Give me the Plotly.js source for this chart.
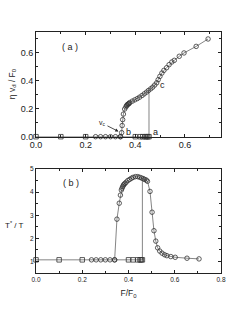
<!DOCTYPE html>
<html><head><meta charset="utf-8">
<script src="https://cdn.plot.ly/plotly-3.0.1.min.js"></script>
<style>html,body{margin:0;padding:0;background:#fff}#chart{width:245px;height:321px}</style>
</head><body><div id="chart"></div>
<script>
// Panel (a): eta*v_d/F0 vs F/F0
const topBaseX = [0, 0.1, 0.2, 0.24, 0.26, 0.28, 0.30, 0.32, 0.34, 0.40, 0.42, 0.43, 0.44, 0.445, 0.45, 0.455];
const topBaseY = [0, 0, 0, 0, 0, 0, 0, 0, 0, 0, 0, 0, 0, 0, 0, 0];
const topBaseSym = ['square-open','square-open','square-open','circle-open','circle-open','circle-open','circle-open','circle-open','circle-open','square-open','square-open','square-open','square-open','square-open','square-open','square-open'];
const topUpX = [0.34, 0.345, 0.347, 0.349, 0.352, 0.357, 0.362, 0.365, 0.367, 0.37, 0.372, 0.375, 0.378, 0.388, 0.398, 0.408, 0.417, 0.427, 0.436, 0.445, 0.453, 0.462, 0.470, 0.478, 0.486, 0.492, 0.499, 0.507, 0.515, 0.526, 0.536, 0.547, 0.557, 0.577, 0.596, 0.645, 0.693];
const topUpY = [0, 0.029, 0.08, 0.122, 0.162, 0.198, 0.213, 0.222, 0.228, 0.232, 0.235, 0.238, 0.245, 0.255, 0.264, 0.273, 0.283, 0.295, 0.307, 0.319, 0.331, 0.343, 0.355, 0.37, 0.386, 0.408, 0.432, 0.456, 0.475, 0.494, 0.516, 0.535, 0.547, 0.576, 0.6, 0.647, 0.70];
const topJumpX = [0.455, 0.455];
const topJumpY = [0, 0.335];

// Panel (b): T*/T vs F/F0
const botBaseX = [0, 0.1, 0.2, 0.24, 0.26, 0.28, 0.30, 0.32, 0.34, 0.40, 0.42, 0.44, 0.45, 0.455, 0.46];
const botBaseY = [1.07, 1.07, 1.07, 1.07, 1.07, 1.07, 1.07, 1.07, 1.07, 1.07, 1.07, 1.07, 1.07, 1.07, 1.07];
const botBaseSym = ['square-open','square-open','square-open','circle-open','circle-open','circle-open','circle-open','circle-open','circle-open','square-open','square-open','square-open','square-open','square-open','square-open'];
const botUpX = [0.34, 0.35, 0.36, 0.365, 0.369, 0.372, 0.375, 0.378, 0.381, 0.385, 0.39, 0.397, 0.405, 0.413, 0.42, 0.43, 0.44, 0.449, 0.457, 0.464, 0.47, 0.477, 0.482, 0.493, 0.502, 0.51, 0.518, 0.526, 0.535, 0.545, 0.556, 0.566, 0.583, 0.602, 0.653, 0.705];
const botUpY = [1.07, 2.83, 3.52, 3.87, 4.09, 4.17, 4.24, 4.3, 4.34, 4.38, 4.43, 4.5, 4.55, 4.6, 4.64, 4.67, 4.67, 4.64, 4.61, 4.58, 4.55, 4.52, 4.47, 4.03, 3.13, 2.33, 1.88, 1.59, 1.45, 1.36, 1.29, 1.25, 1.21, 1.18, 1.14, 1.11];
const botJumpX = [0.46, 0.46];
const botJumpY = [1.07, 4.5];

const lineC = '#666', mkC = '#333';
const mk = (sym) => ({symbol: sym, size: 4.5, color: mkC, line: {color: mkC, width: 0.8}});
const traces = [
  {x: topJumpX, y: topJumpY, xaxis: 'x', yaxis: 'y', mode: 'lines', line: {color: lineC, width: 0.8}},
  {x: topBaseX, y: topBaseY, xaxis: 'x', yaxis: 'y', mode: 'lines+markers', line: {color: lineC, width: 0.8}, marker: mk(topBaseSym), cliponaxis: false},
  {x: topUpX, y: topUpY, xaxis: 'x', yaxis: 'y', mode: 'lines+markers', line: {color: lineC, width: 0.8}, marker: mk('circle-open'), cliponaxis: false},
  {x: botJumpX, y: botJumpY, xaxis: 'x2', yaxis: 'y2', mode: 'lines', line: {color: lineC, width: 0.8}},
  {x: botBaseX, y: botBaseY, xaxis: 'x2', yaxis: 'y2', mode: 'lines+markers', line: {color: lineC, width: 0.8}, marker: mk(botBaseSym), cliponaxis: false},
  {x: botUpX, y: botUpY, xaxis: 'x2', yaxis: 'y2', mode: 'lines+markers', line: {color: lineC, width: 0.8}, marker: mk('circle-open'), cliponaxis: false}
];

const ax = (extra) => Object.assign({
  showline: true, linecolor: '#222', linewidth: 1, mirror: 'ticks',
  ticks: 'inside', ticklen: 3, tickcolor: '#222', tickwidth: 1,
  showgrid: false, zeroline: false, fixedrange: true
}, extra);

const layout = {
  width: 245, height: 321,
  margin: {l: 36, r: 24.3, t: 32, b: 48},
  paper_bgcolor: '#fff', plot_bgcolor: '#fff',
  showlegend: false,
  font: {family: 'Liberation Sans, Arial, sans-serif', color: '#222', size: 9},
  xaxis: ax({domain: [0, 1], anchor: 'y', range: [0, 0.745], dtick: 0.2, tick0: 0, tickformat: '.1f',
    minor: {dtick: 0.1, ticks: 'inside', ticklen: 2, tickcolor: '#222'}, tickfont: {size: 9}}),
  yaxis: ax({domain: [0.5656, 1], anchor: 'x', range: [0, 0.75], dtick: 0.2, tick0: 0, tickformat: '.1f',
    minor: {dtick: 0.1, ticks: 'inside', ticklen: 2, tickcolor: '#222'}, tickfont: {size: 9}}),
  xaxis2: ax({domain: [0, 1], anchor: 'y2', range: [0, 0.8], dtick: 0.2, tick0: 0, tickformat: '.1f',
    minor: {dtick: 0.1, ticks: 'inside', ticklen: 2, tickcolor: '#222'}, tickfont: {size: 6.5},
    title: {text: 'F/F<sub>0</sub>', font: {size: 8.5}, standoff: 8}}),
  yaxis2: ax({domain: [0, 0.4315], anchor: 'x2', range: [0.5, 5], dtick: 1, tick0: 0,
    minor: {dtick: 0.5, ticks: 'inside', ticklen: 2, tickcolor: '#222'}, tickfont: {size: 6.5}}),
  annotations: [
    {xref: 'paper', yref: 'paper', x: -0.128, y: 0.785, xanchor: 'center', yanchor: 'middle', text: 'η v<sub>d</sub> / F<sub>0</sub>', textangle: -90, showarrow: false, font: {size: 8.5}},
    {xref: 'x', yref: 'y', x: 0.135, y: 0.64, text: '( a )', showarrow: false, font: {size: 9}},
    {xref: 'x', yref: 'y', x: 0.51, y: 0.37, text: 'c', showarrow: false, font: {size: 9}},
    {xref: 'x', yref: 'y', x: 0.372, y: 0.037, text: 'b', showarrow: false, font: {size: 9}},
    {xref: 'x', yref: 'y', x: 0.48, y: 0.037, text: 'a', showarrow: false, font: {size: 9}},
    {xref: 'x', yref: 'y', x: 0.332, y: 0.038, ax: -16, ay: -8, text: 'v<sub>c</sub>', showarrow: true, arrowhead: 2, arrowsize: 0.8, arrowwidth: 0.8, arrowcolor: '#222', font: {size: 7}},
    {xref: 'x2', yref: 'y2', x: 0.15, y: 4.4, text: '( b )', showarrow: false, font: {size: 9}},
    {xref: 'paper', yref: 'paper', x: -0.115, y: 0.2, xanchor: 'center', yanchor: 'middle', text: 'T<sup>*</sup> / T', showarrow: false, font: {size: 8}}
  ]
};
Plotly.newPlot('chart', traces, layout, {staticPlot: true, displayModeBar: false});
</script></body></html>
